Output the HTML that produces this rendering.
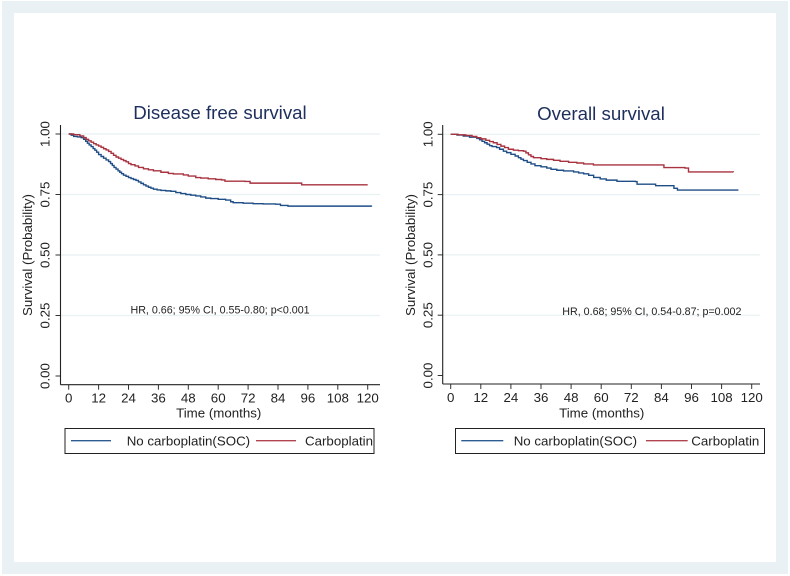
<!DOCTYPE html>
<html lang="en">
<head>
<meta charset="utf-8">
<title>Survival curves</title>
<style>
html,body{margin:0;padding:0;background:#fff;}
body{width:790px;height:576px;overflow:hidden;}
svg{display:block;font-family:"Liberation Sans",sans-serif;filter:blur(0.3px);}
</style>
</head>
<body>
<svg id="figure" width="790" height="576" viewBox="0 0 790 576" xmlns="http://www.w3.org/2000/svg">
  <rect x="2" y="1" width="786" height="573" fill="#e9f1f4"/>
  <rect x="14" y="13" width="762" height="549" fill="#ffffff"/>
  <g id="panel-dfs"></g>
  <g id="panel-os"></g>
</svg>
<script>
const xTickLabels = [0, 12, 24, 36, 48, 60, 72, 84, 96, 108, 120];
const yTickLabels = [0, 0.25, 0.5, 0.75, 1];

const dfsBlueTime = [0, 1, 2, 3.5, 5, 6, 6.8, 7.5, 8.2, 9, 9.8, 10.5, 11.2, 12, 13, 14, 15, 16, 16.8, 17.5, 18.2, 19, 19.8, 20.5, 21.2, 22, 23, 24, 25, 26, 27, 28, 29, 30, 31, 32, 33, 34, 35.5, 37, 39, 41, 43, 45, 47, 49, 51, 53, 55, 57, 60, 63, 65, 66, 70, 74, 78, 83, 85, 88, 121.5];
const dfsBlueSurvival = [1, 0.995, 0.99, 0.988, 0.985, 0.978, 0.97, 0.962, 0.955, 0.948, 0.94, 0.933, 0.925, 0.915, 0.907, 0.9, 0.893, 0.886, 0.878, 0.87, 0.862, 0.855, 0.848, 0.842, 0.836, 0.83, 0.825, 0.82, 0.816, 0.812, 0.808, 0.802, 0.796, 0.79, 0.785, 0.78, 0.776, 0.772, 0.769, 0.767, 0.765, 0.763, 0.758, 0.754, 0.75, 0.747, 0.744, 0.74, 0.735, 0.733, 0.73, 0.727, 0.72, 0.716, 0.714, 0.712, 0.711, 0.71, 0.705, 0.702, 0.70];
const dfsRedTime = [0, 2, 4.5, 6, 7, 8, 9, 10, 11, 12, 13, 14, 15, 16, 17, 18, 19, 20, 21, 22, 23, 24, 25, 26.6, 28, 30, 32, 34, 37, 40, 42, 46, 48, 51, 53, 56, 59, 61.4, 62.7, 70.7, 72.8, 93.5, 120];
const dfsRedSurvival = [1, 0.997, 0.992, 0.985, 0.978, 0.972, 0.966, 0.96, 0.955, 0.95, 0.945, 0.939, 0.934, 0.928, 0.92, 0.912, 0.905, 0.9, 0.895, 0.89, 0.885, 0.878, 0.873, 0.868, 0.862, 0.856, 0.852, 0.848, 0.842, 0.837, 0.835, 0.831, 0.826, 0.82, 0.818, 0.815, 0.812, 0.81, 0.805, 0.804, 0.797, 0.79, 0.79];

const osBlueTime = [0, 2.5, 5, 7.5, 10.4, 11.5, 12.5, 13.5, 14.5, 15.5, 16.5, 18.3, 19.5, 21, 22.3, 24, 25.7, 27, 28, 29, 30.5, 32, 33.6, 36, 38.3, 40, 42.3, 45, 49, 51, 53, 55, 57, 59.6, 62, 66.3, 73.6, 74.3, 81.7, 88.8, 89, 90.4, 114.7];
const osBlueSurvival = [1, 0.997, 0.993, 0.988, 0.983, 0.977, 0.971, 0.965, 0.959, 0.953, 0.949, 0.945, 0.938, 0.93, 0.924, 0.917, 0.91, 0.903, 0.897, 0.891, 0.884, 0.877, 0.87, 0.865, 0.86, 0.855, 0.851, 0.848, 0.844, 0.84, 0.836, 0.83, 0.821, 0.815, 0.81, 0.805, 0.804, 0.793, 0.787, 0.787, 0.776, 0.769, 0.769];
const osRedTime = [0, 3, 6, 8.5, 10.4, 12, 14, 15.5, 17, 18.5, 20, 21.5, 23, 25, 27, 29, 30, 31, 32, 33, 36, 38.3, 41, 43.6, 47, 50.3, 53, 56.9, 83.5, 85, 93.4, 94.8, 112.7];
const osRedSurvival = [1, 0.998, 0.995, 0.991, 0.986, 0.981, 0.975, 0.97, 0.965, 0.958, 0.951, 0.945, 0.938, 0.934, 0.932, 0.93, 0.923, 0.915, 0.908, 0.903, 0.899, 0.896, 0.892, 0.888, 0.884, 0.881, 0.877, 0.873, 0.873, 0.862, 0.86, 0.844, 0.843];

const SVG_NS = 'http://www.w3.org/2000/svg';

function make(parent, tag, attrs, text) {
  const el = document.createElementNS(SVG_NS, tag);
  for (const key in attrs) el.setAttribute(key, attrs[key]);
  if (text !== undefined) el.textContent = text;
  parent.appendChild(el);
  return el;
}

function stepPath(times, values, xScale, yScale) {
  let d = 'M' + xScale(times[0]).toFixed(2) + ' ' + yScale(values[0]).toFixed(2);
  for (let i = 1; i < times.length; i++) {
    d += 'H' + xScale(times[i]).toFixed(2) + 'V' + yScale(values[i]).toFixed(2);
  }
  return d;
}

function drawPanel(cfg) {
  const g = document.getElementById(cfg.id);
  const xScale = t => cfg.x0 + (cfg.x120 - cfg.x0) * t / 120;
  const yScale = s => cfg.y0 + (cfg.y1 - cfg.y0) * s;

  yTickLabels.forEach(v => {
    const y = yScale(v);
    if (v > 0) {
      const grid = make(g, 'line', {x1: cfg.axisX, x2: cfg.plotRight, y1: y, y2: y, stroke: '#e8f1f3', 'stroke-width': 1.2});
      
      
    }
    const tick = make(g, 'line', {x1: cfg.axisX - 5, x2: cfg.axisX, y1: y, y2: y, stroke: '#333', 'stroke-width': 1});
    
    
    const lx = cfg.yLabelX;
    const label = make(g, 'text', {x: lx, y: y, transform: 'rotate(-90 ' + lx + ' ' + y + ')', 'text-anchor': 'middle', 'font-size': 13.3, fill: '#222'}, v.toFixed(2));
    
    
  });

  xTickLabels.forEach(v => {
    const x = xScale(v);
    const tick = make(g, 'line', {x1: x, x2: x, y1: cfg.axisY, y2: cfg.axisY + 5, stroke: '#333', 'stroke-width': 1});
    
    
    const label = make(g, 'text', {x: x, y: cfg.axisY + 18, 'text-anchor': 'middle', 'font-size': 13.3, fill: '#222'}, String(v));
    
    
  });

  const yAxis = make(g, 'line', {x1: cfg.axisX, x2: cfg.axisX, y1: 125, y2: cfg.axisY, stroke: '#222', 'stroke-width': 1.1});
  
  
  const xAxis = make(g, 'line', {x1: cfg.axisX, x2: cfg.plotRight, y1: cfg.axisY, y2: cfg.axisY, stroke: '#222', 'stroke-width': 1.1});
  
  

  const blue = make(g, 'path', {d: stepPath(cfg.blueT, cfg.blueS, xScale, yScale), fill: 'none', stroke: '#1f4e86', 'stroke-width': 1.4});
  
  
  const red = make(g, 'path', {d: stepPath(cfg.redT, cfg.redS, xScale, yScale), fill: 'none', stroke: '#a8323f', 'stroke-width': 1.4});
  
  

  const title = make(g, 'text', {x: cfg.titleX, y: cfg.titleY, 'text-anchor': 'middle', 'font-size': 18.7, fill: '#1e2f5e'}, cfg.title);
  
  

  const yt = make(g, 'text', {x: cfg.yTitleX, y: 255, transform: 'rotate(-90 ' + cfg.yTitleX + ' 255)', 'text-anchor': 'middle', 'font-size': 13.3, fill: '#222'}, 'Survival (Probability)');
  
  

  const xt = make(g, 'text', {x: (cfg.x0 + cfg.x120) / 2 + 0.5, y: 417.5, 'text-anchor': 'middle', 'font-size': 13.3, fill: '#222'}, 'Time (months)');
  
  

  const note = make(g, 'text', {x: cfg.noteX, y: cfg.noteY, 'font-size': 10.7, fill: '#222'}, cfg.note);
  
  

  const legend = make(g, 'rect', {x: cfg.legX, y: 428.5, width: 309, height: 25, fill: '#fff', stroke: '#222', 'stroke-width': 1});
  
  
  const lb = make(g, 'line', {x1: cfg.legBlue[0], x2: cfg.legBlue[1], y1: 440.7, y2: 440.7, stroke: '#2c5c92', 'stroke-width': 1.3});
  
  
  const lr = make(g, 'line', {x1: cfg.legRed[0], x2: cfg.legRed[1], y1: 440.7, y2: 440.7, stroke: '#b24450', 'stroke-width': 1.3});
  
  
  const t1 = make(g, 'text', {x: cfg.legText1, y: 445.5, 'font-size': 13.3, fill: '#222'}, 'No carboplatin(SOC)');
  
  
  const t2 = make(g, 'text', {x: cfg.legText2, y: 445.5, 'font-size': 13.3, fill: '#222'}, 'Carboplatin');
  
  
}

drawPanel({
  id: 'panel-dfs', title: 'Disease free survival', titleX: 220, titleY: 119,
  x0: 68.7, x120: 367.7, y0: 376, y1: 134, axisX: 60.5, axisY: 384.7, plotRight: 380,
  yLabelX: 49.5, yTitleX: 32,
  blueT: dfsBlueTime, blueS: dfsBlueSurvival, redT: dfsRedTime, redS: dfsRedSurvival,
  note: 'HR, 0.66; 95% CI, 0.55-0.80; p<0.001', noteX: 130.5, noteY: 313.5,
  legX: 65, legBlue: [71, 111], legRed: [256, 296], legText1: 126.7, legText2: 305
});

drawPanel({
  id: 'panel-os', title: 'Overall survival', titleX: 601, titleY: 120,
  x0: 450.7, x120: 751.7, y0: 375.5, y1: 134.3, axisX: 442.7, axisY: 384, plotRight: 760,
  yLabelX: 432.5, yTitleX: 415,
  blueT: osBlueTime, blueS: osBlueSurvival, redT: osRedTime, redS: osRedSurvival,
  note: 'HR, 0.68; 95% CI, 0.54-0.87; p=0.002', noteX: 562.3, noteY: 315,
  legX: 455.5, legBlue: [461.3, 503.3], legRed: [646, 687.7], legText1: 513.7, legText2: 691.3
});
</script>
</body>
</html>
